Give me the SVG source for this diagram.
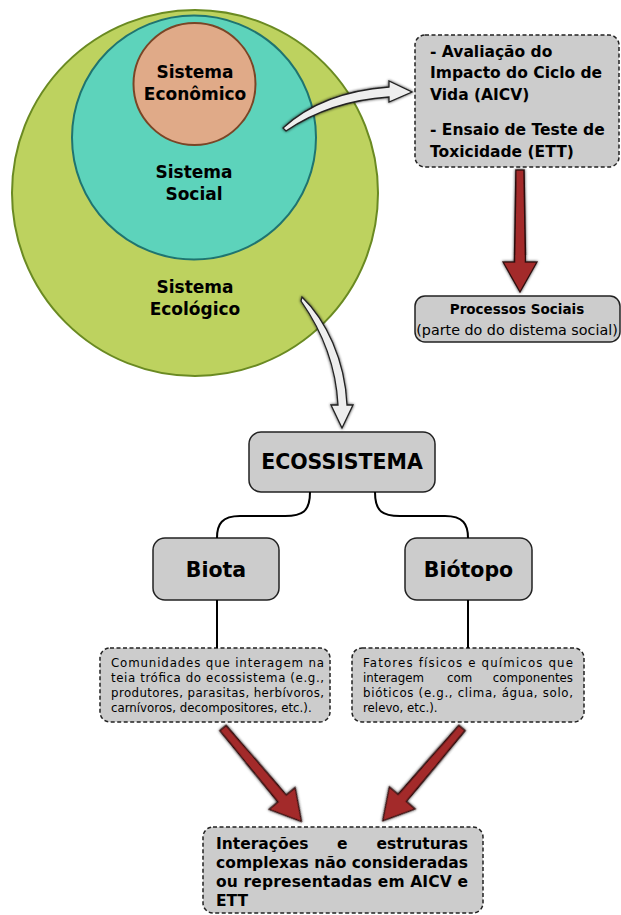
<svg xmlns="http://www.w3.org/2000/svg" width="621" height="915" viewBox="0 0 621 915">
<style>
.t{font-family:"DejaVu Sans","Liberation Sans",sans-serif;fill:#000}
.b{font-weight:bold}
.box{fill:#cccccc;stroke:#222;stroke-width:1.5}
.dash{fill:#cccccc;stroke:#222;stroke-width:1.5;stroke-dasharray:4 2.5}
.line{fill:none;stroke:#000;stroke-width:2}
.white{fill:#eeeeee;stroke:#222;stroke-width:1.3;filter:url(#sh)}
.red{fill:#a32a2a;stroke:#2a0c0c;stroke-width:1.3;filter:url(#sh)}
</style>
<defs>
<filter id="sh" x="-30%" y="-30%" width="160%" height="160%">
<feGaussianBlur in="SourceAlpha" stdDeviation="1.6"/>
<feComponentTransfer><feFuncA type="linear" slope="0.8"/></feComponentTransfer>
<feMerge><feMergeNode/><feMergeNode in="SourceGraphic"/></feMerge>
</filter>
<path id="ra" d="M0,-4 L92,-5.5 L92,-17 L122,0 L92,17 L92,5.5 L0,4 Z"/>
</defs>
<rect width="621" height="915" fill="#fff"/>

<g id="sistema-ecologico">
<circle cx="195" cy="193" r="183" fill="#bdd25f" stroke="#6a8a22" stroke-width="2"/>
<text class="t b" x="195" y="293" font-size="17" text-anchor="middle">Sistema</text>
<text class="t b" x="195" y="315" font-size="17" text-anchor="middle">Ecológico</text>
</g>
<g id="sistema-social">
<circle cx="194" cy="137.5" r="122" fill="#5dd3bb" stroke="#1f7470" stroke-width="2"/>
<text class="t b" x="194" y="178" font-size="17" text-anchor="middle">Sistema</text>
<text class="t b" x="194" y="200" font-size="17" text-anchor="middle">Social</text>
</g>
<g id="sistema-economico">
<circle cx="194.5" cy="84" r="61" fill="#e0aa88" stroke="#7a4526" stroke-width="2"/>
<text class="t b" x="195" y="78" font-size="17" text-anchor="middle">Sistema</text>
<text class="t b" x="195" y="100" font-size="17" text-anchor="middle">Econômico</text>
</g>

<g id="metodos">
<rect class="dash" x="415" y="35" width="204" height="132" rx="10"/>
<text class="t b" x="430" y="57" font-size="15.5">- Avaliação do</text>
<text class="t b" x="430" y="78" font-size="15.5">Impacto do Ciclo de</text>
<text class="t b" x="430" y="100" font-size="15.5">Vida (AICV)</text>
<text class="t b" x="430" y="135" font-size="15.5">- Ensaio de Teste de</text>
<text class="t b" x="430" y="157" font-size="15.5">Toxicidade (ETT)</text>
</g>

<g id="processos-sociais">
<rect class="box" x="415" y="296" width="205" height="46" rx="10"/>
<text class="t b" x="517" y="314" font-size="13.5" text-anchor="middle">Processos Sociais</text>
<text class="t" x="517" y="335" font-size="14.3" text-anchor="middle">(parte do do distema social)</text>
</g>

<g id="ecossistema">
<rect class="box" x="249" y="432" width="186" height="60" rx="12"/>
<text class="t b" x="342" y="469" font-size="20.5" text-anchor="middle">ECOSSISTEMA</text>
</g>
<g id="biota">
<rect class="box" x="153" y="538" width="126" height="62" rx="12"/>
<text class="t b" x="216" y="577" font-size="20.5" text-anchor="middle">Biota</text>
</g>
<g id="biotopo">
<rect class="box" x="405" y="538" width="127" height="62" rx="12"/>
<text class="t b" x="468.5" y="577" font-size="20.5" text-anchor="middle">Biótopo</text>
</g>

<g id="biota-desc">
<rect class="dash" x="100" y="648" width="230" height="74" rx="10"/>
<text class="t" x="111" y="667" font-size="11.8" textLength="213" lengthAdjust="spacing">Comunidades que interagem na</text>
<text class="t" x="111" y="682" font-size="11.8" textLength="213" lengthAdjust="spacing">teia trófica do ecossistema (e.g.,</text>
<text class="t" x="111" y="697" font-size="11.8" textLength="213" lengthAdjust="spacing">produtores, parasitas, herbívoros,</text>
<text class="t" x="111" y="712" font-size="11.8">carnívoros, decompositores, etc.).</text>
</g>
<g id="biotopo-desc">
<rect class="dash" x="352" y="648" width="232" height="74" rx="10"/>
<text class="t" x="363" y="667" font-size="11.8" textLength="210" lengthAdjust="spacing">Fatores físicos e químicos que</text>
<text class="t" x="363" y="682" font-size="11.8">interagem</text>
<text class="t" x="447" y="682" font-size="11.8">com</text>
<text class="t" x="573" y="682" font-size="11.8" text-anchor="end">componentes</text>
<text class="t" x="363" y="697" font-size="11.8" textLength="210" lengthAdjust="spacing">bióticos (e.g., clima, água, solo,</text>
<text class="t" x="363" y="712" font-size="11.8">relevo, etc.).</text>
</g>

<g id="interacoes">
<rect class="dash" x="203" y="827" width="280" height="86" rx="10"/>
<text class="t b" x="216" y="849" font-size="15.5">Interações</text>
<text class="t b" x="337" y="849" font-size="15.5">e</text>
<text class="t b" x="468" y="849" font-size="15.5" text-anchor="end">estruturas</text>
<text class="t b" x="216" y="868" font-size="15.5" textLength="252" lengthAdjust="spacing">complexas não consideradas</text>
<text class="t b" x="216" y="887" font-size="15.5" textLength="252" lengthAdjust="spacing">ou representadas em AICV e</text>
<text class="t b" x="216" y="906" font-size="15.5">ETT</text>
</g>

<g id="connectors">
<path class="line" d="M310,492 C310,512 302,516 285,516 H240 C222,516 217,524 217,538"/>
<path class="line" d="M375,492 C375,512 383,516 400,516 H445 C463,516 468,524 468,538"/>
<path class="line" d="M217,600 V648"/>
<path class="line" d="M468,600 V648"/>
<path class="white" d="M283,128 Q322,92 389,87 L389,81 L412,92 L389,102 L389,97 Q330,101 286,131 Z"/>
<path class="white" d="M302,297 C326,320 345,360 347,405 L353,405 L342,428 L331,405 L338,405 C336,366 322,331 301,301 Z"/>
<use href="#ra" class="red" transform="translate(520,170) rotate(90)"/>
<use href="#ra" class="red" transform="translate(223,728) rotate(50)"/>
<use href="#ra" class="red" transform="translate(462,728) rotate(130.5)"/>
</g>
</svg>
